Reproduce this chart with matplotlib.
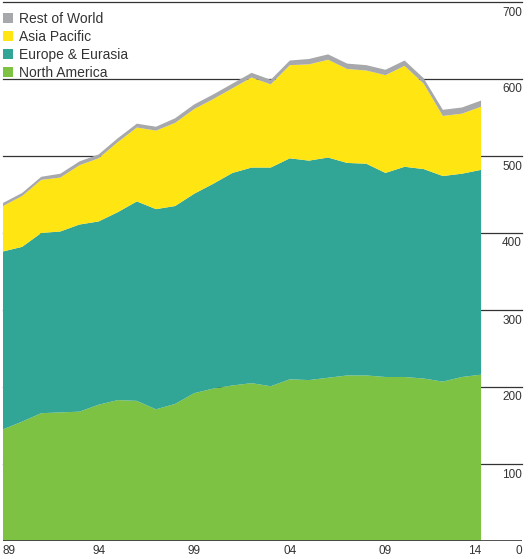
import matplotlib
matplotlib.use("Agg")
import matplotlib.pyplot as plt
from matplotlib import transforms

plt.rcParams["font.family"] = ["Liberation Sans", "DejaVu Sans"]

years = list(range(1989, 2015))
north_america = [145, 155, 166, 167, 168, 177, 183, 182, 171, 178, 192, 198, 202,
                 205, 201, 210, 209, 212, 215, 215, 213, 213, 211, 207, 213, 216]
europe_eurasia = [231, 227, 234, 235, 243, 238, 244, 259, 260, 257, 259, 266, 276,
                  280, 284, 287, 285, 286, 276, 275, 265, 273, 272, 267, 264, 266]
asia_pacific = [59, 66, 69, 70, 77, 82, 91, 96, 102, 108, 110, 110, 110,
                117, 108, 121, 125, 127, 122, 121, 127, 131, 111, 78, 78, 82]
rest_of_world = [4, 4, 4, 5, 5, 5, 5, 5, 5, 6, 6, 6, 6,
                 6, 6, 6, 7, 7, 7, 7, 7, 7, 7, 8, 8, 8]

labels = ["North America", "Europe & Eurasia", "Asia Pacific", "Rest of World"]
colors = ["#7dc242", "#31a596", "#ffe512", "#a7a8ab"]

x_ticks = [1989, 1994, 1999, 2004, 2009, 2014]
x_labels = ["89", "94", "99", "04", "09", "14"]
y_ticks = [0, 100, 200, 300, 400, 500, 600, 700]

fig = plt.figure(figsize=(5.28, 5.59), dpi=100)
ax = fig.add_axes([3 / 528, 18 / 559, 519 / 528, 539 / 559])

polys = ax.stackplot(years, north_america, europe_eurasia, asia_pacific, rest_of_world,
                     colors=colors, linewidth=0, zorder=2)

# grid lines sit behind the areas
for v in y_ticks[1:]:
    ax.axhline(v, color="#333333", lw=0.9, zorder=1, clip_on=False)
ax.axhline(0, color="#444444", lw=1.3, zorder=3)

ax.set_xlim(1989, 2016.14)
ax.set_ylim(0, 700)
ax.axis("off")

# y labels on the right, a bit under each line
ytrans = transforms.offset_copy(ax.transData, fig=fig, y=-10.5, units="dots")
for v in y_ticks:
    ax.text(2016.14, v, str(v), ha="right", va="center", fontsize=8.5,
            color="#333333", transform=ytrans)

xtrans = transforms.offset_copy(ax.transData, fig=fig, y=-9.5, units="dots")
for i, (yr, lab) in enumerate(zip(x_ticks, x_labels)):
    ha = "center"
    if i == 0:
        ha = "left"
    elif i == len(x_ticks) - 1:
        ha = "right"
    ax.text(yr, 0, lab, ha=ha, va="center", fontsize=8.5, color="#333333",
            transform=xtrans)

leg = ax.legend(polys[::-1], labels[::-1], loc="upper left",
                bbox_to_anchor=(3 / 528, 1 - 12 / 559), bbox_transform=fig.transFigure,
                frameon=False, fontsize=10, handlelength=0.7, handleheight=0.7,
                handletextpad=0.45, labelspacing=0.28, borderpad=0, borderaxespad=0)
for t in leg.get_texts():
    t.set_color("#333333")

fig.savefig("out.png", dpi=100)
